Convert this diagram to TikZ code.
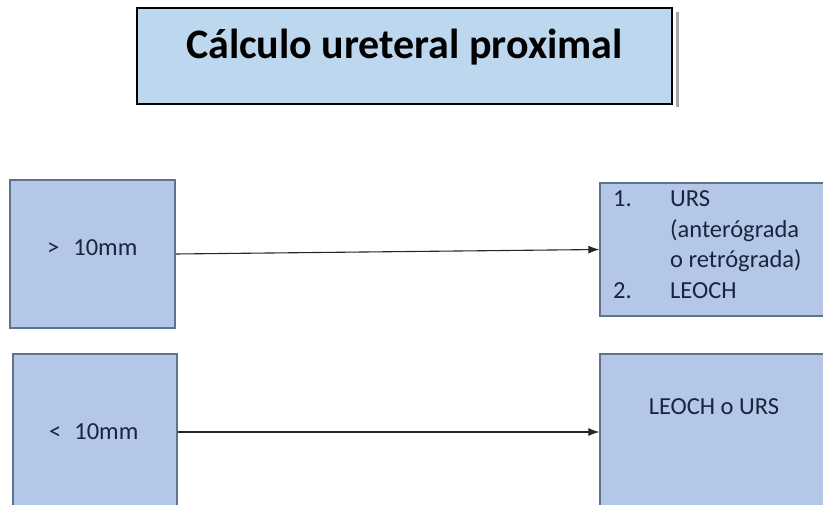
\documentclass[tikz,border=0pt]{standalone}
\usepackage{fontspec}
\setmainfont{Carlito}
\usetikzlibrary{arrows.meta}
\definecolor{titlefill}{HTML}{BDD7EE}
\definecolor{boxfill}{HTML}{B4C7E7}
\definecolor{boxline}{HTML}{5F7391}
\definecolor{txt}{HTML}{1A2440}
\tikzset{
  titlebox/.style={draw=black, line width=1.4pt, fill=titlefill, minimum width=535pt, minimum height=96pt, inner sep=0pt},
  stagebox/.style={draw=boxline, line width=1.2pt, fill=boxfill, inner sep=0pt},
  smalltext/.style={text=txt, font=\fontsize{24.5}{30.5}\selectfont, inner sep=0pt},
  conn/.style={draw=black!85, line width=1.1pt, -{Latex[length=11pt,width=8pt]}}
}
\begin{document}
\begin{tikzpicture}[x=1pt,y=-1pt]
\path[use as bounding box, clip] (0,0) rectangle (823,505);
\fill[white] (0,0) rectangle (823,505);
% title
\fill[black!35] (676,12) rectangle (679,107);
\node[titlebox] (title) at (404.5,56) {};
\node[font=\bfseries\fontsize{42}{50}\selectfont, inner sep=0pt] (titletext) at (404.5,47) {Cálculo ureteral proximal};
% boxes
\node[stagebox, minimum width=165pt, minimum height=148pt] (left1) at (92.5,254) {};
\node[smalltext, anchor=west] (l1text) at (47,248) {>\hspace{14pt}10mm};
\node[stagebox, minimum width=240pt, minimum height=133pt] (right1) at (720,249.5) {};
\node[smalltext, anchor=north west, align=left] (r1text) at (613,185)
  {\begin{tabular}{@{}p{57pt}@{}l@{}}1. & URS\\ & (anterógrada\\ & o retrógrada)\\ 2. & LEOCH\end{tabular}};
\node[stagebox, minimum width=164pt, minimum height=156pt] (left2) at (95,432) {};
\node[smalltext, anchor=west] (l2text) at (49,432) {<\hspace{13pt}10mm};
\node[stagebox, minimum width=240pt, minimum height=170pt] (right2) at (720,439) {};
\node[smalltext] (r2text) at (714,407) {LEOCH o URS};
% connectors
\draw[conn] (left1.east) -- (right1.west);
\draw[conn] (left2.east) -- (right2.west |- left2.east);
\end{tikzpicture}
\end{document}
